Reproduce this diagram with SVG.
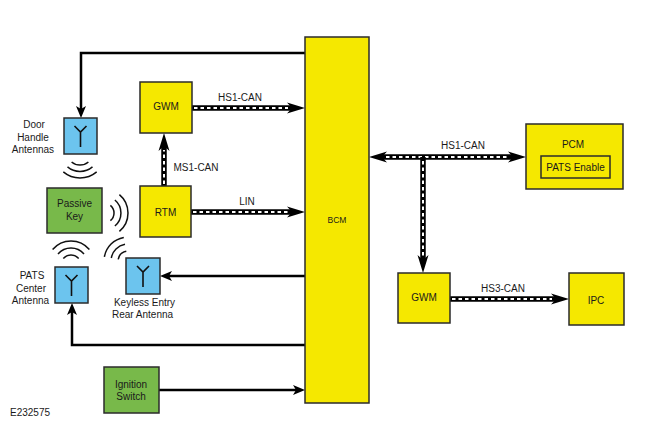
<svg xmlns="http://www.w3.org/2000/svg" width="650" height="425" viewBox="0 0 650 425">
<style>
.yel{fill:#f5e800;stroke:#2b2b2b;stroke-width:1.5}
.blu{fill:#6cc4ee;stroke:#2b2b2b;stroke-width:1.5}
.grn{fill:#78b94a;stroke:#2b2b2b;stroke-width:1.5}
.t{font-family:"Liberation Sans",Arial,sans-serif;font-size:10px;fill:#1a1a1a;text-anchor:middle}
.ant{fill:none;stroke:#111;stroke-width:1.6}
.wave{fill:none;stroke:#111;stroke-width:1.5}
.wire{fill:none;stroke:#000;stroke-width:2.5}
.bus{fill:none;stroke:#000;stroke-width:5.5}
.busd{fill:none;stroke:#fff;stroke-width:2;stroke-dasharray:3.5 3}
</style>
<defs>
<marker id="ah" markerUnits="userSpaceOnUse" markerWidth="12" markerHeight="10" refX="3" refY="5" orient="auto" overflow="visible">
<path d="M0,0 L12,5 L0,10 L3,5 Z" fill="#000"/>
</marker>
<marker id="bh" markerUnits="userSpaceOnUse" markerWidth="18" markerHeight="11" refX="5" refY="5.5" orient="auto-start-reverse" overflow="visible">
<path d="M0,0 L18,5.5 L0,11 L5,5.5 Z" fill="#000"/>
</marker>
</defs>
<rect width="650" height="425" fill="#fff"/>

<g id="connectors">
<polyline class="wire" points="305,53 81,53 81,109" marker-end="url(#ah)"/>
<line class="wire" x1="305" y1="276" x2="169" y2="276" marker-end="url(#ah)"/>
<polyline class="wire" points="305,345 72,345 72,312" marker-end="url(#ah)"/>
<line class="wire" x1="159" y1="390" x2="296" y2="390" marker-end="url(#ah)"/>

<line class="bus" x1="192" y1="108" x2="292" y2="108" marker-end="url(#bh)"/>
<line class="busd" x1="194" y1="108" x2="288" y2="108"/>
<line class="bus" x1="191" y1="212" x2="292" y2="212" marker-end="url(#bh)"/>
<line class="busd" x1="193" y1="212" x2="288" y2="212"/>
<line class="bus" x1="164" y1="186" x2="164" y2="146" marker-end="url(#bh)"/>
<line class="busd" x1="164" y1="184" x2="164" y2="150"/>
<line class="bus" x1="382" y1="157" x2="513" y2="157" marker-start="url(#bh)" marker-end="url(#bh)"/>
<line class="busd" x1="386" y1="157" x2="509" y2="157"/>
<line class="bus" x1="423" y1="157" x2="423" y2="260" marker-end="url(#bh)"/>
<line class="busd" x1="423" y1="161" x2="423" y2="256"/>
<line class="bus" x1="450" y1="299" x2="556" y2="299" marker-end="url(#bh)"/>
<line class="busd" x1="452" y1="299" x2="552" y2="299"/>
<text class="t" x="240" y="101">HS1-CAN</text>
<text class="t" x="247" y="205">LIN</text>
<text class="t" x="196" y="171">MS1-CAN</text>
<text class="t" x="463" y="149">HS1-CAN</text>
<text class="t" x="503" y="292">HS3-CAN</text>
</g>

<g id="BCM">
<rect class="yel" x="305" y="37" width="64" height="366"/>
<text class="t" x="337" y="223" style="font-size:8.5px">BCM</text>
</g>
<g id="GWM1">
<rect class="yel" x="140" y="82" width="52" height="51"/>
<text class="t" x="166" y="110">GWM</text>
</g>
<g id="RTM">
<rect class="yel" x="140" y="186" width="51" height="51"/>
<text class="t" x="165.5" y="216">RTM</text>
</g>
<g id="PCM">
<rect class="yel" x="526" y="124" width="97" height="65"/>
<text class="t" x="573" y="148">PCM</text>
<rect class="yel" x="541" y="156" width="69" height="22"/>
<text class="t" x="575.5" y="171">PATS Enable</text>
</g>
<g id="GWM2">
<rect class="yel" x="398" y="273" width="52" height="50"/>
<text class="t" x="424" y="301">GWM</text>
</g>
<g id="IPC">
<rect class="yel" x="569" y="273" width="55" height="52"/>
<text class="t" x="596" y="304">IPC</text>
</g>

<g id="DoorHandleAntennas">
<rect class="blu" x="64" y="118" width="33" height="36"/>
<path class="ant" d="M74.5,126 L80.5,132 L86.5,126 M80.5,132 V147"/>
<text class="t" x="34" y="128">Door</text>
<text class="t" x="33" y="140.5">Handle</text>
<text class="t" x="33" y="153">Antennas</text>
<path class="wave" d="M71.6,162 A13,13 0 0 0 88.4,162 M67.5,166.9 A19.5,19.5 0 0 0 92.5,166.9 M63.3,171.9 A26,26 0 0 0 96.7,171.9"/>
</g>

<g id="PassiveKey">
<rect class="grn" x="47" y="188" width="55" height="45"/>
<text class="t" x="74.5" y="207">Passive</text>
<text class="t" x="74.5" y="220">Key</text>
<path class="wave" d="M110.4,205.3 A10,10 0 0 1 110.4,220.7 M114.9,200 A17,17 0 0 1 114.9,226 M119.4,194.6 A24,24 0 0 1 119.4,231.4"/>
</g>

<g id="PATSCenterAntenna">
<rect class="blu" x="55" y="267" width="33" height="36"/>
<path class="ant" d="M65.5,275 L71.5,281 L77.5,275 M71.5,281 V296"/>
<text class="t" x="32" y="279">PATS</text>
<text class="t" x="31" y="291.5">Center</text>
<text class="t" x="30.5" y="304">Antenna</text>
<path class="wave" d="M63.3,258.6 A10,10 0 0 1 78.7,258.6 M58,254.1 A17,17 0 0 1 84,254.1 M52.6,249.6 A24,24 0 0 1 89.4,249.6"/>
</g>

<g id="KeylessEntryRearAntenna">
<rect class="blu" x="126" y="258" width="34" height="36"/>
<path class="ant" d="M137,266 L143,272 L149,266 M143,272 V287"/>
<text class="t" x="144.5" y="306">Keyless Entry</text>
<text class="t" x="142.5" y="318">Rear Antenna</text>
<path class="wave" d="M118.2,259.3 A10,10 0 0 1 126.3,251.2 M111.3,258 A17,17 0 0 1 125,244.3 M104.4,256.8 A24,24 0 0 1 123.8,237.4"/>
</g>

<g id="IgnitionSwitch">
<rect class="grn" x="104" y="367" width="55" height="46"/>
<text class="t" x="131" y="388">Ignition</text>
<text class="t" x="131" y="400">Switch</text>
</g>

<text class="t" x="10" y="416" style="text-anchor:start">E232575</text>
</svg>
